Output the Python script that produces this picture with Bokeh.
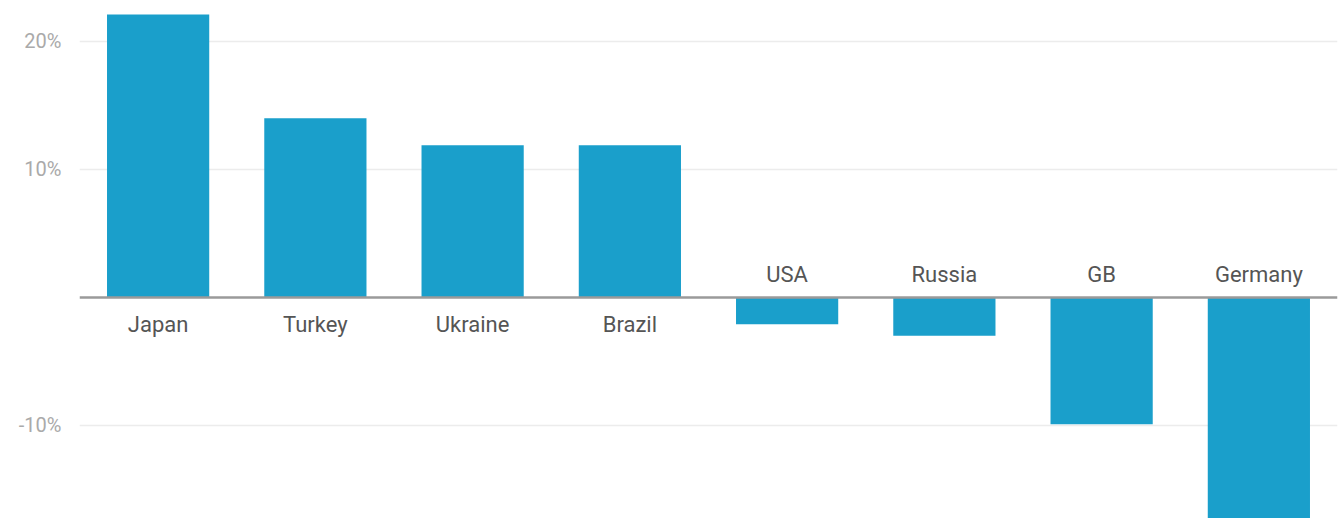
from bokeh.plotting import figure
from bokeh.models import Span, ColumnDataSource, FixedTicker, Range1d
from bokeh.core.properties import value
from bokeh.embed import file_html
from bokeh.resources import INLINE

countries = ["Japan", "Turkey", "Ukraine", "Brazil", "USA", "Russia", "GB", "Germany"]
changes = [22.1, 14.0, 11.9, 11.9, -2.1, -3.0, -9.9, -17.5]
tick_values = [20, 10, -10]
tick_labels = {20: "20%", 10: "10%", -10: "-10%"}

BAR = "#1a9fcb"

p = figure(x_range=countries, y_range=Range1d(-17.27, 23.2),
           width=1339, height=518, output_backend="svg", toolbar_location=None,
           min_border_left=79, min_border_right=2, min_border_top=0, min_border_bottom=0)
p.outline_line_color = None
p.background_fill_color = "white"
p.border_fill_color = "white"

src = ColumnDataSource(dict(x=countries, top=changes))
p.vbar(x="x", top="top", bottom=0, width=0.65, source=src, color=BAR, line_color=None)

p.add_layout(Span(location=0, dimension="width", line_color="#9a9a9a", line_width=2.5))

pos = ColumnDataSource(dict(x=[c for c, v in zip(countries, changes) if v >= 0],
                            y=[0 for v in changes if v >= 0],
                            t=[c for c, v in zip(countries, changes) if v >= 0]))
neg = ColumnDataSource(dict(x=[c for c, v in zip(countries, changes) if v < 0],
                            y=[0 for v in changes if v < 0],
                            t=[c for c, v in zip(countries, changes) if v < 0]))
for s, off in ((pos, 27), (neg, -23)):
    p.text(x="x", y="y", text="t", source=s, text_align="center", text_baseline="middle",
           y_offset=off, text_font=value("Roboto"), text_font_size="22px", text_color="#555555")

p.xaxis.visible = False
p.xgrid.visible = False
p.yaxis.ticker = FixedTicker(ticks=tick_values)
p.yaxis.major_label_overrides = tick_labels
p.yaxis.axis_line_color = None
p.yaxis.major_tick_line_color = None
p.yaxis.minor_tick_line_color = None
p.yaxis.major_label_text_font = "Roboto"
p.yaxis.major_label_text_font_size = "20px"
p.yaxis.major_label_text_color = "#aaaaaa"
p.yaxis.major_label_standoff = 12
p.ygrid.grid_line_color = "#ececec"
p.ygrid.grid_line_width = 1.5

open("out.html", "w").write(file_html(p, INLINE))
